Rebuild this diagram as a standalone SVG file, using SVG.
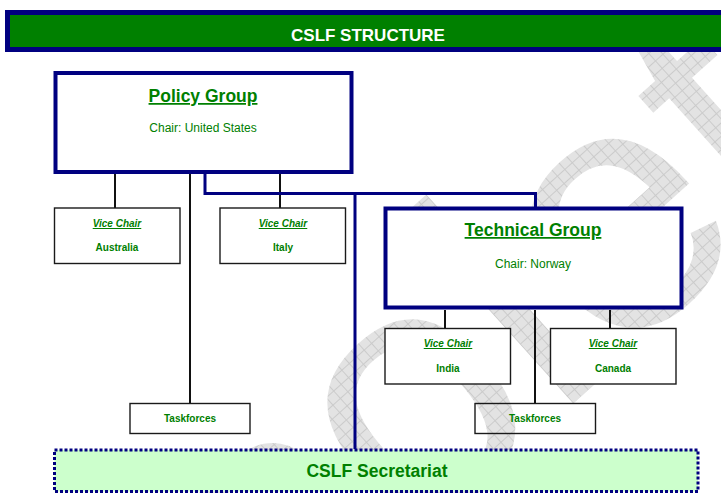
<svg xmlns="http://www.w3.org/2000/svg" width="721" height="493" viewBox="0 0 721 493">
<defs>
<pattern id="hatch" patternUnits="userSpaceOnUse" width="10" height="10">
<rect width="10" height="10" fill="#e3e3e3"/>
<path d="M0,0.5 H10 M0.5,0 V10" stroke="#cbcbcb" stroke-width="1"/>
</pattern>
</defs>
<style>
.big{stroke:#000080;stroke-width:4;fill:#fff}
.small{stroke:#1a1a1a;stroke-width:1.4;fill:#fff}
.tf{stroke:#1a1a1a;stroke-width:1.4;fill:none}
.t{font-family:"Liberation Sans",Arial,sans-serif;fill:#008000;text-anchor:middle}
.title{font-size:17.5px;font-weight:bold;text-decoration:underline}
.chair{font-size:12px}
.vc{font-size:10px;font-weight:bold;font-style:italic;text-decoration:underline}
.sm{font-size:10px;font-weight:bold}
.blk{stroke:#111;stroke-width:2;fill:none}
.blu{stroke:#000080;stroke-width:3;fill:none}
</style>
<rect width="721" height="493" fill="#fff"/>
<text x="0" y="0" transform="translate(-66,979) rotate(-42)" font-family="Liberation Sans,Arial,sans-serif" font-size="350" fill="url(#hatch)">Obsolete</text>
<g id="header">
<rect x="7.5" y="12.5" width="720" height="37" fill="#008000" stroke="#000080" stroke-width="5"/>
<text x="368" y="40.5" font-family="Liberation Sans,Arial,sans-serif" font-size="17" font-weight="bold" fill="#fff" text-anchor="middle">CSLF STRUCTURE</text>
</g>
<g id="connectors">
<path class="blk" d="M115,174 V208 M190,174 V403 M280,174 V208 M445,310 V328 M535,310 V403 M610,310 V328"/>
<path class="blu" d="M205,174 V193.5 H535.5 V207 M355,193.5 V449"/>
</g>
<g id="policy">
<rect class="big" x="55.5" y="73" width="296" height="99"/>
<text class="t title" x="203" y="102">Policy Group</text>
<text class="t chair" x="203" y="132">Chair: United States</text>
</g>
<g id="vc-australia">
<rect class="small" x="54.5" y="208" width="125.5" height="55.5"/>
<text class="t vc" x="117" y="227">Vice Chair</text>
<text class="t sm" x="117" y="251">Australia</text>
</g>
<g id="vc-italy">
<rect class="small" x="220" y="208" width="125.5" height="55.5"/>
<text class="t vc" x="283" y="227">Vice Chair</text>
<text class="t sm" x="283" y="251">Italy</text>
</g>
<g id="technical">
<rect class="big" x="385.5" y="208.5" width="296" height="99"/>
<text class="t title" x="533" y="236">Technical Group</text>
<text class="t chair" x="533" y="268">Chair: Norway</text>
</g>
<g id="vc-india">
<rect class="small" x="385" y="328.5" width="125.5" height="55.5"/>
<text class="t vc" x="448" y="347">Vice Chair</text>
<text class="t sm" x="448" y="372">India</text>
</g>
<g id="vc-canada">
<rect class="small" x="550.5" y="328.5" width="125.5" height="55.5"/>
<text class="t vc" x="613" y="347">Vice Chair</text>
<text class="t sm" x="613" y="372">Canada</text>
</g>
<g id="taskforces-policy">
<rect class="tf" x="130" y="403.5" width="120" height="30"/>
<text class="t sm" x="190" y="422">Taskforces</text>
</g>
<g id="taskforces-technical">
<rect class="tf" x="475" y="403.5" width="120.5" height="30"/>
<text class="t sm" x="535" y="422">Taskforces</text>
</g>
<g id="secretariat">
<rect x="54.5" y="450" width="643.5" height="41.5" fill="#ccffcc" stroke="#000080" stroke-width="3" stroke-dasharray="3,2"/>
<text x="377" y="477" font-family="Liberation Sans,Arial,sans-serif" font-size="17.5" font-weight="bold" fill="#008000" text-anchor="middle">CSLF Secretariat</text>
</g>
</svg>
